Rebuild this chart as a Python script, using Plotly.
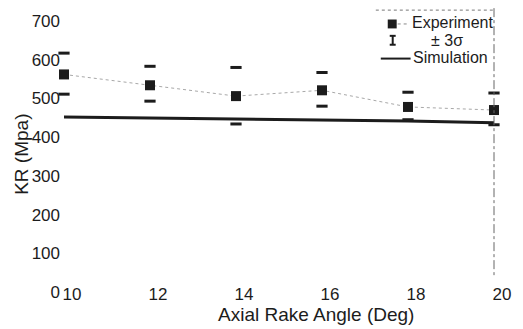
import plotly.graph_objects as go

# ---- data ----
angle = [10, 12, 14, 16, 18, 20]
kr_experiment = [562, 534, 506, 521, 478, 470]
kr_upper = [617, 583, 580, 567, 516, 514]   # +3 sigma
kr_lower = [511, 493, 434, 480, 445, 432]   # -3 sigma
kr_simulation = [452, 450, 447, 445, 442, 437]
x_ticks = [10, 12, 14, 16, 18, 20]
y_ticks = [0, 100, 200, 300, 400, 500, 600, 700]

W, H = 523, 329
ML, MR, MT, MB = 64, 26, 18, 37
PW, PH = W - ML - MR, H - MT - MB
FONT = "Liberation Sans, Arial, sans-serif"
INK = "#1c1c1c"


def px(x):
    return (x - ML) / PW


def py(y):
    return (H - MB - y) / PH


fig = go.Figure()

# experiment connecting dotted line + markers
fig.add_trace(go.Scatter(
    x=angle, y=kr_experiment, mode="lines",
    line=dict(color="#a8a8a8", width=1, dash="dot"),
    showlegend=False, hoverinfo="skip"))
fig.add_trace(go.Scatter(
    x=angle, y=kr_simulation, mode="lines",
    line=dict(color=INK, width=3),
    showlegend=False, name="Simulation"))
fig.add_trace(go.Scatter(
    x=angle, y=kr_upper, mode="markers",
    marker=dict(symbol="line-ew", size=8, line=dict(color=INK, width=3)),
    showlegend=False, cliponaxis=False))
fig.add_trace(go.Scatter(
    x=angle, y=kr_lower, mode="markers",
    marker=dict(symbol="line-ew", size=8, line=dict(color=INK, width=3)),
    showlegend=False, cliponaxis=False))
fig.add_trace(go.Scatter(
    x=angle, y=kr_experiment, mode="markers",
    marker=dict(symbol="square", size=10, color=INK),
    showlegend=False, cliponaxis=False, name="Experiment"))

shapes = [
    # legend box: top dotted border and right dash-dot border
    dict(type="line", xref="paper", yref="paper",
         x0=px(378), x1=px(496), y0=py(7), y1=py(7),
         line=dict(color="#777", width=1, dash="dot")),
    dict(type="line", xref="paper", yref="paper",
         x0=px(497), x1=px(497), y0=py(5), y1=py(278),
         line=dict(color="#666", width=1, dash="dashdot")),
    # legend: experiment marker + stub
    dict(type="rect", xref="paper", yref="paper",
         x0=px(390), x1=px(399), y0=py(16.5), y1=py(25.5),
         fillcolor=INK, line=dict(width=0)),
    dict(type="line", xref="paper", yref="paper",
         x0=px(400), x1=px(410), y0=py(21), y1=py(21),
         line=dict(color="#888", width=1, dash="dot")),
    # legend: +-3 sigma symbol
    dict(type="line", xref="paper", yref="paper",
         x0=px(395), x1=px(395), y0=py(33), y1=py(42),
         line=dict(color=INK, width=2)),
    dict(type="line", xref="paper", yref="paper",
         x0=px(392), x1=px(398), y0=py(33), y1=py(33),
         line=dict(color=INK, width=2)),
    dict(type="line", xref="paper", yref="paper",
         x0=px(392), x1=px(398), y0=py(42), y1=py(42),
         line=dict(color=INK, width=2)),
    # legend: simulation line
    dict(type="line", xref="paper", yref="paper",
         x0=px(383), x1=px(413), y0=py(56), y1=py(56),
         line=dict(color=INK, width=2)),
]

annotations = [
    dict(text="Experiment", xref="paper", yref="paper", x=px(412), y=py(20),
         xanchor="left", yanchor="middle", showarrow=False,
         font=dict(family=FONT, size=16, color=INK)),
    dict(text="± 3σ", xref="paper", yref="paper", x=px(450), y=py(38),
         xanchor="center", yanchor="middle", showarrow=False,
         font=dict(family=FONT, size=16, color=INK)),
    dict(text="Simulation", xref="paper", yref="paper", x=px(413), y=py(55),
         xanchor="left", yanchor="middle", showarrow=False,
         font=dict(family=FONT, size=16, color=INK)),
    dict(text="Axial Rake Angle (Deg)", xref="paper", yref="paper",
         x=px(318), y=py(315), xanchor="center", yanchor="middle",
         showarrow=False, font=dict(family=FONT, size=19, color=INK)),
    dict(text="KR (Mpa)", xref="paper", yref="paper",
         x=px(21), y=py(153), xanchor="center", yanchor="middle",
         textangle=-90, showarrow=False,
         font=dict(family=FONT, size=19, color=INK)),
]

fig.update_layout(
    width=W, height=H,
    margin=dict(l=ML, r=MR, t=MT, b=MB, pad=0),
    paper_bgcolor="white", plot_bgcolor="white",
    font=dict(family=FONT, size=17, color=INK),
    shapes=shapes, annotations=annotations,
    showlegend=False,
)
fig.update_xaxes(range=[10, 20], tickvals=x_ticks, showgrid=False,
                 zeroline=False, showline=False, ticks="",
                 ticklabelstandoff=-10, ticklabelshift=8,
                 tickfont=dict(family=FONT, size=17, color=INK))
fig.update_yaxes(range=[0, 700], tickvals=y_ticks, showgrid=False,
                 zeroline=False, showline=False, ticks="",
                 ticklabelstandoff=3,
                 tickfont=dict(family=FONT, size=17, color=INK))

fig.write_html("out.html",
               config={"displayModeBar": False},
               post_script="document.body.style.margin='0';"
                           "document.body.style.overflow='hidden';")
